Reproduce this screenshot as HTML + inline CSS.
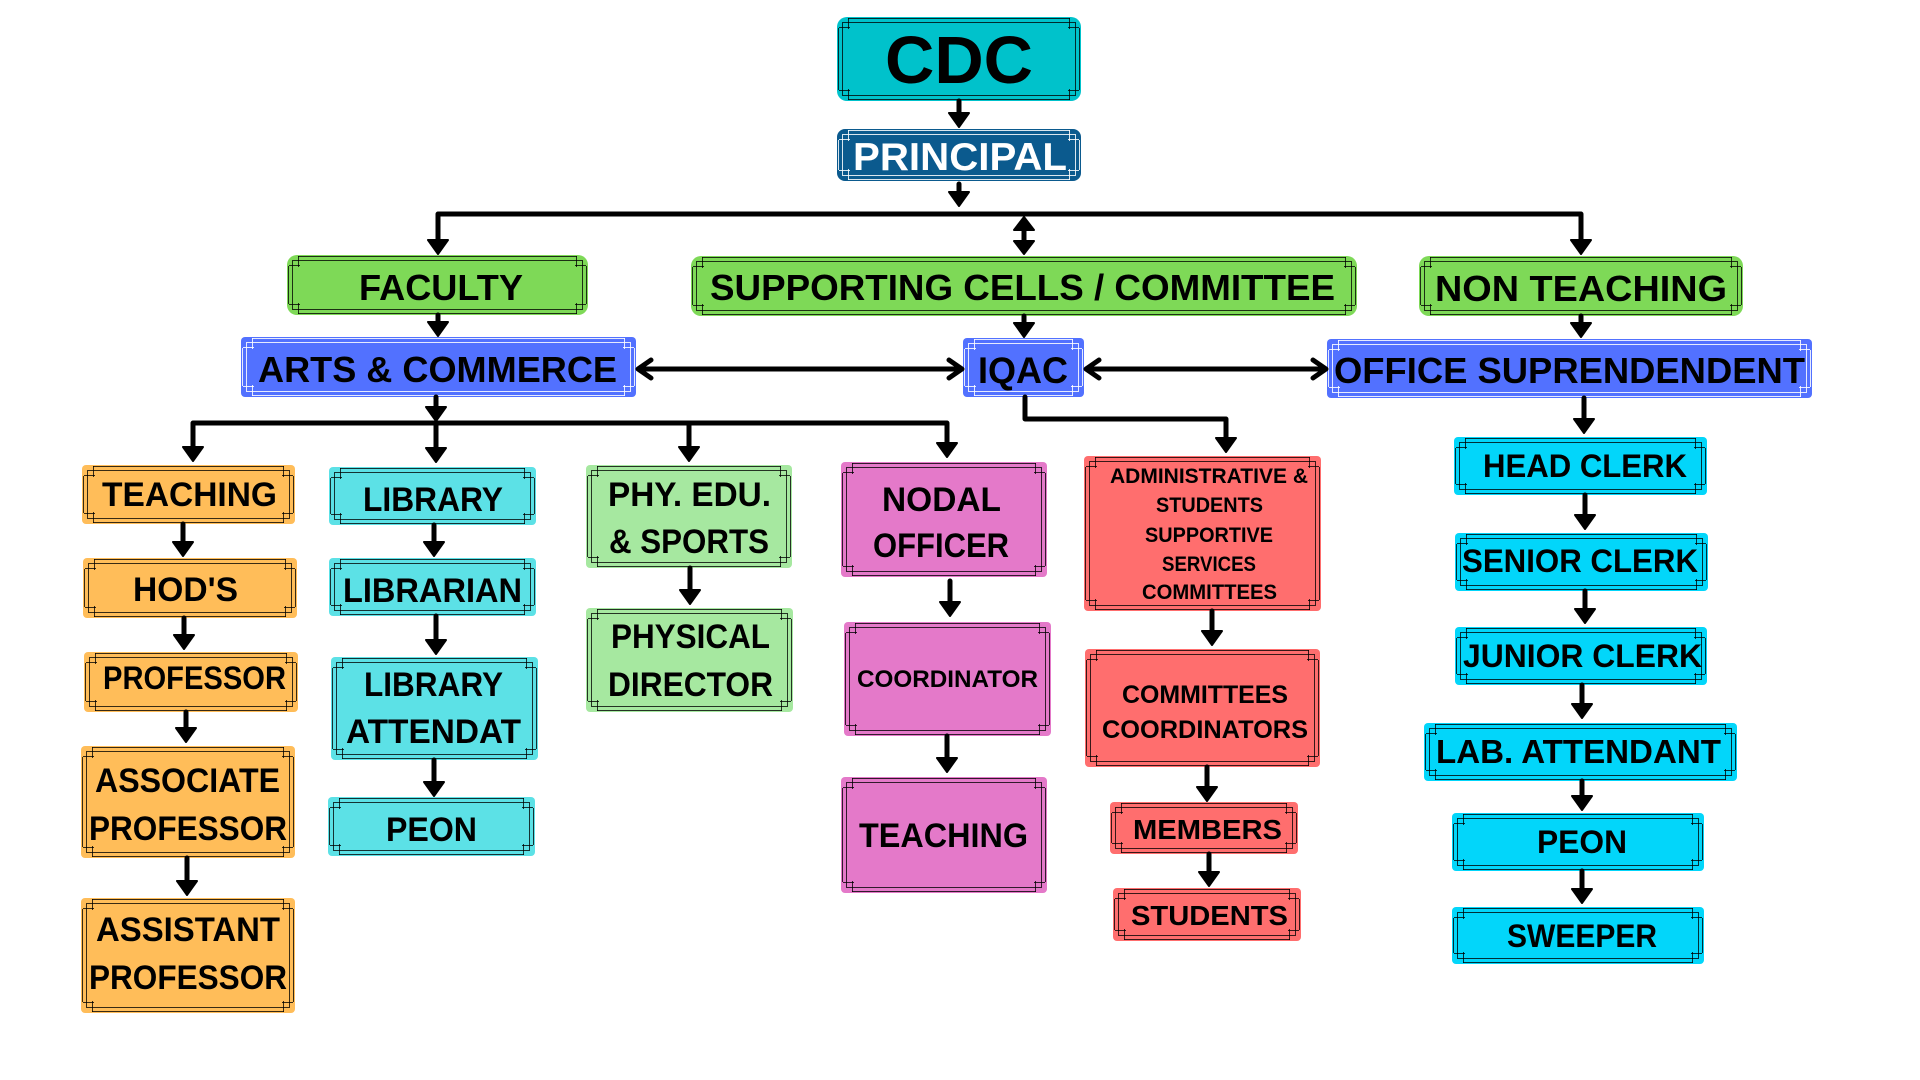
<!DOCTYPE html>
<html>
<head>
<meta charset="utf-8">
<style>
*{box-sizing:border-box;margin:0;padding:0}
html,body{width:1920px;height:1080px;overflow:hidden;background:#fff}
.b{position:absolute;border-radius:4px;--f:rgba(0,0,0,.78)}
.w{--f:rgba(255,255,255,.85)}
.b::before{content:'';position:absolute;left:5px;right:5px;top:5px;bottom:5px;border:1.5px solid var(--f)}
.b::after{content:'';position:absolute;left:11px;right:11px;top:1px;bottom:1px;border-top:1.5px solid var(--f);border-bottom:1.5px solid var(--f)}
.c{position:absolute;left:11px;right:11px;top:1px;bottom:1px}
.c::before,.c::after{content:'';position:absolute;left:0;right:0;height:11px;border-left:1.5px solid var(--f);border-right:1.5px solid var(--f)}
.c::before{top:0}.c::after{bottom:0}
.d{position:absolute;left:1px;right:1px;top:11px;bottom:11px;border-left:1.5px solid var(--f);border-right:1.5px solid var(--f)}
.d::before,.d::after{content:'';position:absolute;top:-1px;bottom:-1px;width:11px;border-top:1.5px solid var(--f);border-bottom:1.5px solid var(--f)}
.d::before{left:0}.d::after{right:0}
svg{position:absolute;left:0;top:0}
text{font-family:"Liberation Sans",Arial,sans-serif;font-weight:700;fill:#000}
</style>
</head>
<body>
<!-- boxes -->
<div class="b" style="left:837px;top:17px;width:244px;height:84px;background:#00c2cb;border-radius:10px"><i class="c"></i><i class="d"></i></div>
<div class="b w" style="left:837px;top:129px;width:244px;height:52px;background:#0b5a8e;border-radius:8px"><i class="c"></i><i class="d"></i></div>

<div class="b" style="left:287px;top:255px;width:301px;height:60px;background:#7ed957;border-radius:10px"><i class="c"></i><i class="d"></i></div>
<div class="b" style="left:691px;top:256px;width:666px;height:60px;background:#7ed957;border-radius:10px"><i class="c"></i><i class="d"></i></div>
<div class="b" style="left:1419px;top:256px;width:324px;height:60px;background:#7ed957;border-radius:10px"><i class="c"></i><i class="d"></i></div>

<div class="b w" style="left:241px;top:337px;width:395px;height:60px;background:#5271ff"><i class="c"></i><i class="d"></i></div>
<div class="b w" style="left:963px;top:338px;width:121px;height:59px;background:#5271ff"><i class="c"></i><i class="d"></i></div>
<div class="b w" style="left:1327px;top:339px;width:485px;height:59px;background:#5271ff"><i class="c"></i><i class="d"></i></div>

<div class="b" style="left:82px;top:465px;width:213px;height:59px;background:#ffbd59"><i class="c"></i><i class="d"></i></div>
<div class="b" style="left:83px;top:558px;width:214px;height:60px;background:#ffbd59"><i class="c"></i><i class="d"></i></div>
<div class="b" style="left:84px;top:652px;width:214px;height:60px;background:#ffbd59"><i class="c"></i><i class="d"></i></div>
<div class="b" style="left:81px;top:746px;width:214px;height:112px;background:#ffbd59"><i class="c"></i><i class="d"></i></div>
<div class="b" style="left:81px;top:898px;width:214px;height:115px;background:#ffbd59"><i class="c"></i><i class="d"></i></div>

<div class="b" style="left:329px;top:467px;width:207px;height:58px;background:#5ce1e6"><i class="c"></i><i class="d"></i></div>
<div class="b" style="left:329px;top:558px;width:207px;height:58px;background:#5ce1e6"><i class="c"></i><i class="d"></i></div>
<div class="b" style="left:331px;top:657px;width:207px;height:103px;background:#5ce1e6"><i class="c"></i><i class="d"></i></div>
<div class="b" style="left:328px;top:797px;width:207px;height:59px;background:#5ce1e6"><i class="c"></i><i class="d"></i></div>

<div class="b" style="left:586px;top:465px;width:206px;height:103px;background:#a6e8a0"><i class="c"></i><i class="d"></i></div>
<div class="b" style="left:586px;top:608px;width:207px;height:104px;background:#a6e8a0"><i class="c"></i><i class="d"></i></div>

<div class="b" style="left:841px;top:462px;width:206px;height:115px;background:#e479c9"><i class="c"></i><i class="d"></i></div>
<div class="b" style="left:844px;top:622px;width:207px;height:114px;background:#e479c9"><i class="c"></i><i class="d"></i></div>
<div class="b" style="left:841px;top:777px;width:206px;height:116px;background:#e479c9"><i class="c"></i><i class="d"></i></div>

<div class="b" style="left:1084px;top:456px;width:237px;height:155px;background:#ff6e6e"><i class="c"></i><i class="d"></i></div>
<div class="b" style="left:1085px;top:649px;width:235px;height:118px;background:#ff6e6e"><i class="c"></i><i class="d"></i></div>
<div class="b" style="left:1110px;top:802px;width:188px;height:52px;background:#ff6e6e"><i class="c"></i><i class="d"></i></div>
<div class="b" style="left:1113px;top:888px;width:188px;height:53px;background:#ff6e6e"><i class="c"></i><i class="d"></i></div>

<div class="b" style="left:1454px;top:437px;width:253px;height:58px;background:#02d6fa"><i class="c"></i><i class="d"></i></div>
<div class="b" style="left:1455px;top:533px;width:253px;height:58px;background:#02d6fa"><i class="c"></i><i class="d"></i></div>
<div class="b" style="left:1455px;top:627px;width:252px;height:58px;background:#02d6fa"><i class="c"></i><i class="d"></i></div>
<div class="b" style="left:1424px;top:723px;width:313px;height:58px;background:#02d6fa"><i class="c"></i><i class="d"></i></div>
<div class="b" style="left:1452px;top:813px;width:252px;height:58px;background:#02d6fa"><i class="c"></i><i class="d"></i></div>
<div class="b" style="left:1452px;top:907px;width:252px;height:57px;background:#02d6fa"><i class="c"></i><i class="d"></i></div>

<svg width="1920" height="1080" viewBox="0 0 1920 1080">
<g fill="none" stroke="#000" stroke-width="5" stroke-linejoin="round" stroke-linecap="round">
  <!-- vertical stems -->
  <path d="M959,101V116M959,184V195"/>
  <path d="M438,245V214H1581V245"/>
  <path d="M438,315V325M1024,316V326M1581,316V326"/>
  <path d="M436,397V410"/>
  <path d="M193,450V423H947V446M436,423V451M689,423V450"/>
  <path d="M1025,397V419H1226V441"/>
  <path d="M1584,398V422M1585,495V518M1585,591V612M1582,685V707M1582,781V799M1582,871V892"/>
  <path d="M183,524V545M184,618V638M186,712V731M187,858V884"/>
  <path d="M434,525V545M436,616V643M434,760V785"/>
  <path d="M690,568V593"/>
  <path d="M950,581V605M947,736V761"/>
  <path d="M1212,611V634M1207,767V790M1209,854V875"/>
  <!-- double vertical -->
  <path d="M1024,226V245"/>
  <!-- horizontal double arrows -->
  <path d="M641,369H959M651,360L638,369L651,378M949,360L962,369L949,378"/>
  <path d="M1089,369H1323M1099,360L1086,369L1099,378M1313,360L1326,369L1313,378"/>
</g>
<g fill="#000" stroke="#000" stroke-width="2" stroke-linejoin="round">
  <polygon points="949,113 969,113 959,127"/>
  <polygon points="949,192 969,192 959,206"/>
  <polygon points="428,240 448,240 438,254"/>
  <polygon points="1571,240 1591,240 1581,254"/>
  <polygon points="428,322 448,322 438,336"/>
  <polygon points="1014,323 1034,323 1024,337"/>
  <polygon points="1571,323 1591,323 1581,337"/>
  <polygon points="426,407 446,407 436,421"/>
  <polygon points="183,447 203,447 193,461"/>
  <polygon points="426,448 446,448 436,462"/>
  <polygon points="679,447 699,447 689,461"/>
  <polygon points="937,443 957,443 947,457"/>
  <polygon points="1216,438 1236,438 1226,452"/>
  <polygon points="1574,419 1594,419 1584,433"/>
  <polygon points="1575,515 1595,515 1585,529"/>
  <polygon points="1575,609 1595,609 1585,623"/>
  <polygon points="1572,704 1592,704 1582,718"/>
  <polygon points="1572,796 1592,796 1582,810"/>
  <polygon points="1572,889 1592,889 1582,903"/>
  <polygon points="173,542 193,542 183,556"/>
  <polygon points="174,635 194,635 184,649"/>
  <polygon points="176,728 196,728 186,742"/>
  <polygon points="177,881 197,881 187,895"/>
  <polygon points="424,542 444,542 434,556"/>
  <polygon points="426,640 446,640 436,654"/>
  <polygon points="424,782 444,782 434,796"/>
  <polygon points="680,590 700,590 690,604"/>
  <polygon points="940,602 960,602 950,616"/>
  <polygon points="937,758 957,758 947,772"/>
  <polygon points="1202,631 1222,631 1212,645"/>
  <polygon points="1197,787 1217,787 1207,801"/>
  <polygon points="1199,872 1219,872 1209,886"/>
  <!-- double vertical heads -->
  <polygon points="1014,230 1034,230 1024,217"/>
  <polygon points="1014,241 1034,241 1024,254"/>
</g>

<!-- labels -->
<text x="885" y="83" font-size="67" textLength="148" lengthAdjust="spacingAndGlyphs">CDC</text>
<text x="853" y="170" font-size="39" textLength="214" lengthAdjust="spacingAndGlyphs" style="fill:#fff">PRINCIPAL</text>

<text x="359" y="300" font-size="36" textLength="164" lengthAdjust="spacingAndGlyphs">FACULTY</text>
<text x="710" y="300" font-size="36" textLength="625" lengthAdjust="spacingAndGlyphs">SUPPORTING CELLS / COMMITTEE</text>
<text x="1435" y="301" font-size="36" textLength="292" lengthAdjust="spacingAndGlyphs">NON TEACHING</text>

<text x="258" y="382" font-size="36" textLength="359" lengthAdjust="spacingAndGlyphs">ARTS &amp; COMMERCE</text>
<text x="978" y="383" font-size="37" textLength="90" lengthAdjust="spacingAndGlyphs">IQAC</text>
<text x="1334" y="383" font-size="36" textLength="471" lengthAdjust="spacingAndGlyphs">OFFICE SUPRENDENDENT</text>

<text x="102" y="506" font-size="34" textLength="175" lengthAdjust="spacingAndGlyphs">TEACHING</text>
<text x="133" y="601" font-size="34" textLength="105" lengthAdjust="spacingAndGlyphs">HOD'S</text>
<text x="103" y="689" font-size="32" textLength="183" lengthAdjust="spacingAndGlyphs">PROFESSOR</text>
<text x="95" y="792" font-size="34" textLength="185" lengthAdjust="spacingAndGlyphs">ASSOCIATE</text>
<text x="89" y="840" font-size="34" textLength="198" lengthAdjust="spacingAndGlyphs">PROFESSOR</text>
<text x="96" y="941" font-size="34" textLength="184" lengthAdjust="spacingAndGlyphs">ASSISTANT</text>
<text x="89" y="989" font-size="34" textLength="198" lengthAdjust="spacingAndGlyphs">PROFESSOR</text>

<text x="363" y="511" font-size="34" textLength="140" lengthAdjust="spacingAndGlyphs">LIBRARY</text>
<text x="343" y="602" font-size="34" textLength="179" lengthAdjust="spacingAndGlyphs">LIBRARIAN</text>
<text x="364" y="696" font-size="34" textLength="139" lengthAdjust="spacingAndGlyphs">LIBRARY</text>
<text x="346" y="743" font-size="34" textLength="175" lengthAdjust="spacingAndGlyphs">ATTENDAT</text>
<text x="386" y="841" font-size="34" textLength="91" lengthAdjust="spacingAndGlyphs">PEON</text>

<text x="608" y="506" font-size="34" textLength="163" lengthAdjust="spacingAndGlyphs">PHY. EDU.</text>
<text x="609" y="553" font-size="34" textLength="160" lengthAdjust="spacingAndGlyphs">&amp; SPORTS</text>
<text x="611" y="648" font-size="34" textLength="159" lengthAdjust="spacingAndGlyphs">PHYSICAL</text>
<text x="608" y="696" font-size="34" textLength="165" lengthAdjust="spacingAndGlyphs">DIRECTOR</text>

<text x="882" y="511" font-size="34" textLength="119" lengthAdjust="spacingAndGlyphs">NODAL</text>
<text x="873" y="557" font-size="34" textLength="136" lengthAdjust="spacingAndGlyphs">OFFICER</text>
<text x="857" y="687" font-size="24" textLength="181" lengthAdjust="spacingAndGlyphs">COORDINATOR</text>
<text x="859" y="847" font-size="34" textLength="169" lengthAdjust="spacingAndGlyphs">TEACHING</text>

<text x="1110" y="483" font-size="21" textLength="198" lengthAdjust="spacingAndGlyphs">ADMINISTRATIVE &amp;</text>
<text x="1156" y="512" font-size="21" textLength="107" lengthAdjust="spacingAndGlyphs">STUDENTS</text>
<text x="1145" y="542" font-size="21" textLength="128" lengthAdjust="spacingAndGlyphs">SUPPORTIVE</text>
<text x="1162" y="571" font-size="21" textLength="94" lengthAdjust="spacingAndGlyphs">SERVICES</text>
<text x="1142" y="599" font-size="21" textLength="135" lengthAdjust="spacingAndGlyphs">COMMITTEES</text>

<text x="1122" y="703" font-size="25" textLength="166" lengthAdjust="spacingAndGlyphs">COMMITTEES</text>
<text x="1102" y="738" font-size="25" textLength="206" lengthAdjust="spacingAndGlyphs">COORDINATORS</text>
<text x="1133" y="839" font-size="28" textLength="149" lengthAdjust="spacingAndGlyphs">MEMBERS</text>
<text x="1131" y="925" font-size="28" textLength="157" lengthAdjust="spacingAndGlyphs">STUDENTS</text>

<text x="1483" y="477" font-size="32" textLength="204" lengthAdjust="spacingAndGlyphs">HEAD CLERK</text>
<text x="1462" y="572" font-size="32" textLength="236" lengthAdjust="spacingAndGlyphs">SENIOR CLERK</text>
<text x="1463" y="667" font-size="32" textLength="239" lengthAdjust="spacingAndGlyphs">JUNIOR CLERK</text>
<text x="1436" y="763" font-size="33" textLength="285" lengthAdjust="spacingAndGlyphs">LAB. ATTENDANT</text>
<text x="1537" y="853" font-size="32" textLength="90" lengthAdjust="spacingAndGlyphs">PEON</text>
<text x="1507" y="947" font-size="32" textLength="150" lengthAdjust="spacingAndGlyphs">SWEEPER</text>
</svg>
</body>
</html>
